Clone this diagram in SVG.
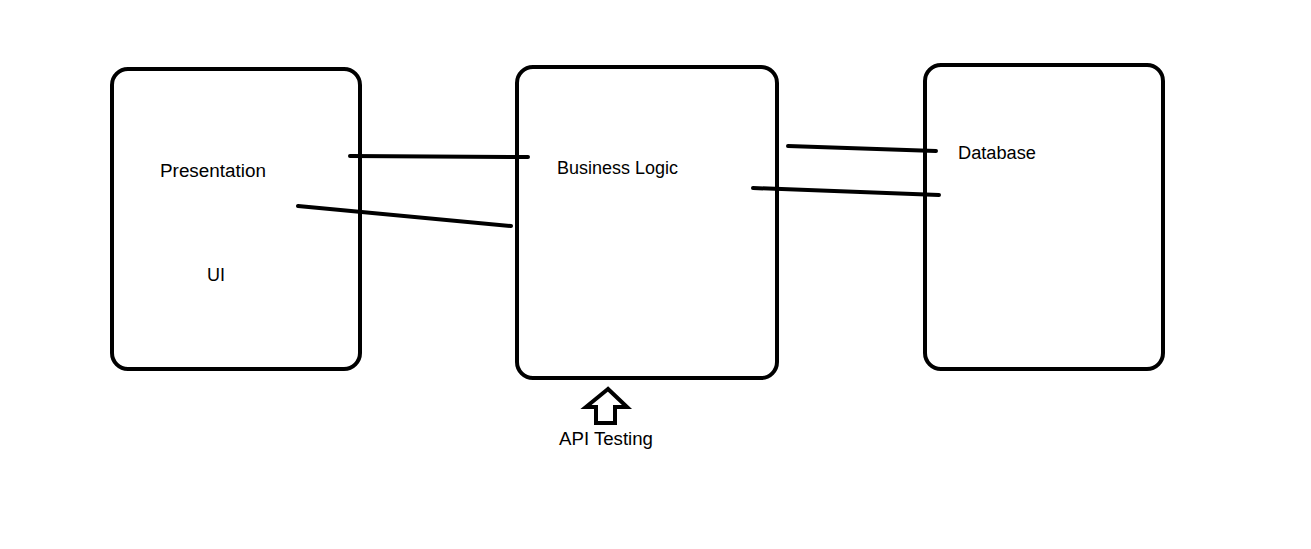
<svg xmlns="http://www.w3.org/2000/svg" width="1311" height="549" viewBox="0 0 1311 549">
<style>
.box{fill:none;stroke:#000;stroke-width:4}
.conn{stroke:#000;stroke-width:4;stroke-linecap:round;fill:none}
.lbl{font-family:"Liberation Sans",Arial,sans-serif;font-size:18px;fill:#000}
</style>
<rect width="1311" height="549" fill="#fff"/>
<g id="presentation">
<rect class="box" x="112" y="69" width="248" height="300" rx="16"/>
<text class="lbl" x="160" y="177" textLength="106" lengthAdjust="spacingAndGlyphs">Presentation</text>
<text class="lbl" x="207" y="281">UI</text>
</g>
<g id="business-logic">
<rect class="box" x="517" y="67" width="260" height="311" rx="16"/>
<text class="lbl" x="557" y="174" textLength="121" lengthAdjust="spacingAndGlyphs">Business Logic</text>
</g>
<g id="database">
<rect class="box" x="925" y="65" width="238" height="304" rx="16"/>
<text class="lbl" x="958" y="159" textLength="78" lengthAdjust="spacingAndGlyphs">Database</text>
</g>
<g id="api-testing">
<path class="conn" d="M608 389 L586 407 L596 407 L596 423 L615 423 L615 407 L627 407 Z" stroke-linejoin="miter" stroke-linecap="butt"/>
<text class="lbl" x="559" y="445" textLength="94" lengthAdjust="spacingAndGlyphs">API Testing</text>
</g>
<g id="connectors">
<line class="conn" x1="350" y1="156" x2="528" y2="157"/>
<line class="conn" x1="298" y1="206" x2="511" y2="226"/>
<line class="conn" x1="788" y1="146" x2="936" y2="151"/>
<line class="conn" x1="753" y1="188" x2="939" y2="195"/>
</g>
</svg>
